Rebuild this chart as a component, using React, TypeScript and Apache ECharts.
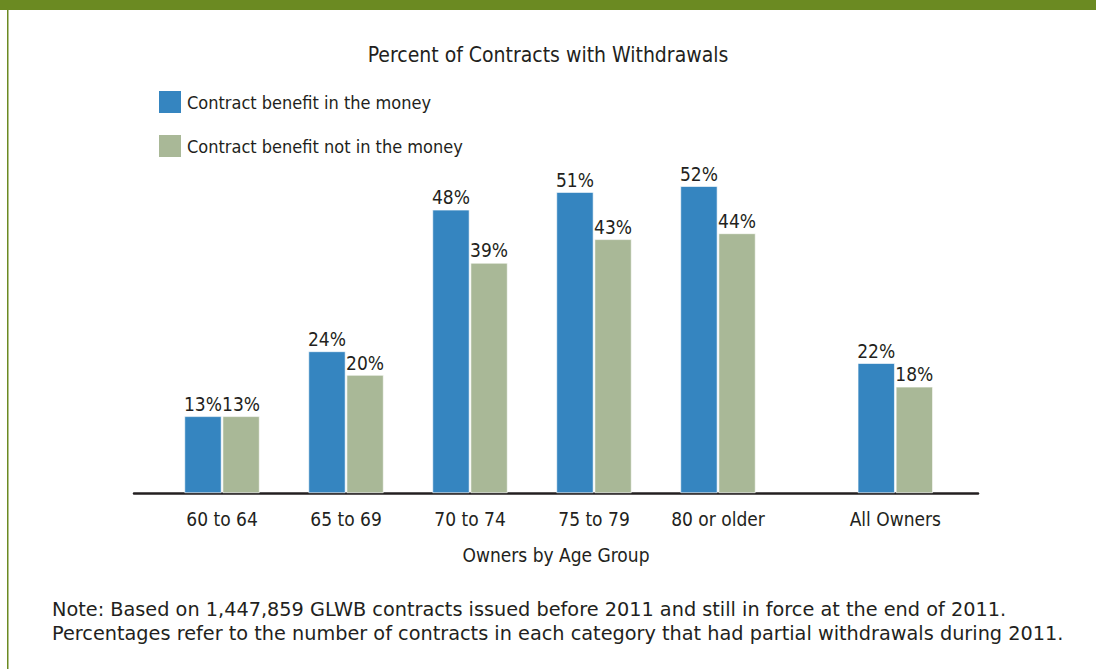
import React, { useEffect, useRef } from "react";
import * as echarts from "echarts";

const categories = ["60 to 64", "65 to 69", "70 to 74", "75 to 79", "80 or older", "All Owners"];
// horizontal position of each group (All Owners is set apart from the age groups)
const groupPositions = [0, 1, 2, 3, 4, 5.43];
const inTheMoney = [13, 24, 48, 51, 52, 22];
const notInTheMoney = [13, 20, 39, 43, 44, 18];
const seriesNames = ["Contract benefit in the money", "Contract benefit not in the money"];
const titleText = "Percent of Contracts with Withdrawals";
const xAxisTitle = "Owners by Age Group";
const noteLines = [
  "Note: Based on 1,447,859 GLWB contracts issued before 2011 and still in force at the end of 2011.",
  "Percentages refer to the number of contracts in each category that had partial withdrawals during 2011.",
];

const BLUE = "#3585C0";
const SAGE = "#A9B897";
const OLIVE = "#6B8A22";
const TEXT = "#231F20";
const CONDENSED = "'Liberation Sans Narrow', 'DejaVu Sans Condensed', Roboto, sans-serif";
const BODY = "'DejaVu Sans', 'Open Sans', sans-serif";

export default function App() {
  const ref = useRef<HTMLDivElement>(null);
  useEffect(() => {
    if (!ref.current) return;
    const chart = echarts.init(ref.current, null, { renderer: "svg" });
    const labelFor = (v: number) => {
      const i = groupPositions.findIndex((p) => Math.abs(p - v) < 1e-6);
      return i >= 0 ? categories[i] : "";
    };
    const mk = (name: string, vals: number[], color: string) => ({
      name,
      type: "bar",
      barWidth: 37,
      barGap: "3%",
      data: vals.map((v, i) => [groupPositions[i], v]),
      itemStyle: { color, borderColor: "#ffffff", borderWidth: 0.6 },
      label: {
        show: true,
        position: "top",
        distance: 3,
        formatter: (p: any) => `${p.value[1]}%`,
        color: TEXT,
        fontSize: 19,
        fontFamily: CONDENSED,
      },
    });
    chart.setOption({
      animation: false,
      backgroundColor: "#ffffff",
      title: {
        text: titleText,
        left: "center",
        top: 39,
        textStyle: { color: TEXT, fontSize: 21, fontWeight: "normal", fontFamily: CONDENSED },
      },
      legend: {
        orient: "vertical",
        left: 152,
        top: 84,
        itemWidth: 24,
        itemHeight: 24,
        itemGap: 18,
        icon: "rect",
        textStyle: { color: TEXT, fontSize: 18, lineHeight: 24, fontFamily: CONDENSED },
        data: seriesNames,
      },
      grid: { left: 134, right: 118, top: 139, bottom: 176, containLabel: false },
      xAxis: {
        type: "value",
        min: -0.71,
        max: 6.097,
        name: xAxisTitle,
        nameLocation: "middle",
        nameGap: 52,
        nameTextStyle: { color: TEXT, fontSize: 19, fontFamily: CONDENSED },
        axisLine: { show: true, onZero: false, lineStyle: { color: TEXT, width: 2.5 } },
        axisTick: { show: false },
        splitLine: { show: false },
        axisLabel: {
          customValues: groupPositions,
          formatter: (v: number) => labelFor(v),
          margin: 16,
          color: TEXT,
          fontSize: 19,
          fontFamily: CONDENSED,
        },
      },
      yAxis: { type: "value", min: 0, max: 60, show: false },
      series: [mk(seriesNames[0], inTheMoney, BLUE), mk(seriesNames[1], notInTheMoney, SAGE)],
      graphic: [
        { type: "rect", left: 0, top: 0, shape: { width: 1096, height: 10 }, style: { fill: OLIVE } },
        { type: "rect", left: 7, top: 10, shape: { width: 1.5, height: 659 }, style: { fill: OLIVE } },
        {
          type: "text",
          left: 52,
          top: 597,
          style: { text: noteLines.join("\n"), fill: TEXT, fontSize: 19.3, lineHeight: 24, fontFamily: BODY },
        },
      ],
    });
    return () => chart.dispose();
  }, []);
  return (
    <div
      ref={ref}
      style={{ position: "absolute", left: 0, top: 0, width: 1096, height: 669 }}
    />
  );
}
